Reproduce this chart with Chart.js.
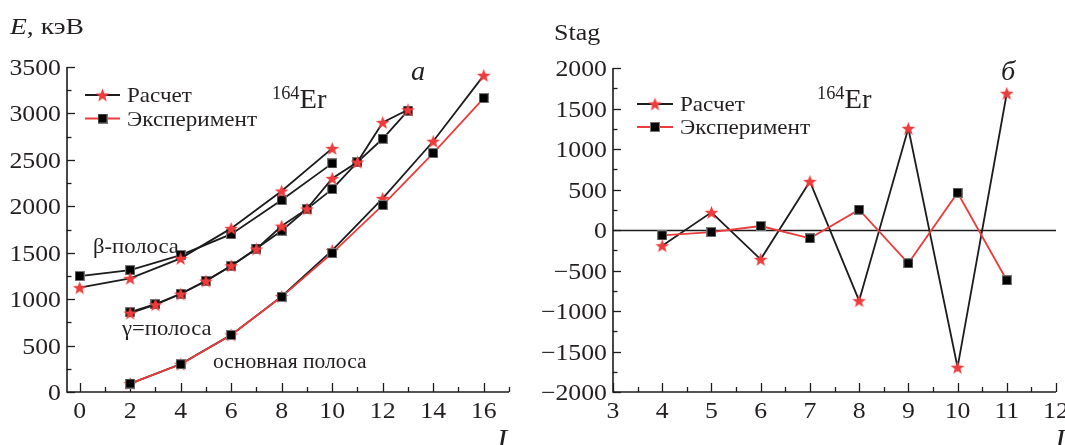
<!DOCTYPE html>
<html>
<head>
<meta charset="utf-8">
<script src="https://cdn.jsdelivr.net/npm/chart.js@4.4.1/dist/chart.umd.min.js"></script>
<style>
html,body{margin:0;padding:0;background:#fff;overflow:hidden;}
#wrap{position:relative;width:1065px;height:445px;}
canvas{position:absolute;top:0;}
#cLeft{left:0;}
#cRight{left:540px;}
</style>
</head>
<body>
<div id="wrap">
<canvas id="cLeft" width="540" height="445"></canvas>
<canvas id="cRight" width="525" height="445"></canvas>
</div>
<script>
// ---------- data ----------
const spinsGround = [2, 4, 6, 8, 10, 12, 14, 16];
const groundCalc  = [91, 300, 615, 1030, 1525, 2085, 2700, 3410];
const groundExp   = [91, 299, 614, 1025, 1495, 2013, 2573, 3165];

const spinsGamma = [2, 3, 4, 5, 6, 7, 8, 9, 10, 11, 12, 13];
const gammaCalc  = [850, 940, 1055, 1195, 1360, 1540, 1787, 1972, 2300, 2476, 2903, 3040];
const gammaExp   = [860, 946, 1058, 1197, 1358, 1545, 1737, 1970, 2185, 2476, 2727, 3030];

const spinsBeta = [0, 2, 4, 6, 8, 10];
const betaCalc  = [1123, 1224, 1439, 1762, 2164, 2623];
const betaExp   = [1249, 1313, 1475, 1700, 2067, 2462];

const spinsStag = [4, 5, 6, 7, 8, 9, 10, 11];
const stagCalc  = [-194, 218, -362, 600, -873, 1255, -1695, 1688];
const stagExp   = [-66, -25, 49, -103, 251, -411, 460, -621];

const energyTicks = [0, 500, 1000, 1500, 2000, 2500, 3000, 3500];
const spinTicksLeft = [0, 2, 4, 6, 8, 10, 12, 14, 16];
const stagTicks = [-2000, -1500, -1000, -500, 0, 500, 1000, 1500, 2000];
const spinTicksRight = [3, 4, 5, 6, 7, 8, 9, 10, 11, 12];

const legendLabels = ['Расчет', 'Эксперимент'];

// ---------- styles ----------
const RED = '#ee3b3b';
const BLACK = '#1c1c1c';
const TEXT = '#231f20';
const SERIF = '"Liberation Serif"';
const SX = 1.12;

function makeStar(size) {
  const c = document.createElement('canvas');
  c.width = size; c.height = size;
  const g = c.getContext('2d');
  const cx = size / 2, cy = size / 2 + 0.6, R = size / 2 - 0.3, r = R * 0.42;
  g.beginPath();
  for (let i = 0; i < 10; i++) {
    const a = -Math.PI / 2 + i * Math.PI / 5;
    const rr = i % 2 === 0 ? R : r;
    g.lineTo(cx + rr * Math.cos(a), cy + rr * Math.sin(a));
  }
  g.closePath();
  g.fillStyle = RED;
  g.fill();
  return c;
}
function makeSquare(size) {
  const c = document.createElement('canvas');
  c.width = size; c.height = size;
  const g = c.getContext('2d');
  g.fillStyle = '#777';
  g.fillRect(0, 0, size, size);
  g.fillStyle = '#000';
  g.fillRect(1, 1, size - 2, size - 2);
  return c;
}
const STAR = makeStar(15);
const SQUARE = makeSquare(10);

function xy(xs, ys) { return xs.map((x, i) => ({x: x, y: ys[i]})); }

function ds(xs, ys, lineColor, marker, order) {
  return {
    data: xy(xs, ys),
    borderColor: lineColor,
    borderWidth: 1.8,
    pointStyle: marker,
    pointRadius: 6,
    pointHoverRadius: 6,
    backgroundColor: lineColor,
    tension: 0,
    fill: false,
    clip: false,
    order: order
  };
}

function drawText(ctx, text, x, y, font, align, baseline, sx) {
  ctx.save();
  ctx.font = font;
  ctx.fillStyle = TEXT;
  ctx.textBaseline = baseline || 'alphabetic';
  ctx.textAlign = 'left';
  const s = sx || SX;
  const w = ctx.measureText(text).width * s;
  let x0 = x;
  if (align === 'right') x0 = x - w;
  else if (align === 'center') x0 = x - w / 2;
  ctx.translate(x0, y);
  ctx.scale(s, 1);
  ctx.fillText(text, 0, 0);
  ctx.restore();
  return w;
}

function drawAxes(chart, cfg) {
  const ctx = chart.ctx;
  const xs = chart.scales.x, ys = chart.scales.y;
  const a = chart.chartArea;
  ctx.save();
  ctx.strokeStyle = BLACK;
  ctx.lineWidth = 1.6;
  ctx.beginPath();
  ctx.moveTo(a.left, a.top);
  ctx.lineTo(a.left, a.bottom);
  ctx.lineTo(a.right, a.bottom);
  ctx.stroke();
  ctx.lineWidth = 1.3;
  for (let v = cfg.yMin; v <= cfg.yMax + 1e-9; v += cfg.yMinor) {
    const p = Math.round(ys.getPixelForValue(v)) + 0.5;
    const major = Math.abs(v / cfg.yMajor - Math.round(v / cfg.yMajor)) < 1e-6;
    ctx.beginPath();
    ctx.moveTo(a.left, p);
    ctx.lineTo(a.left + (major ? 8 : 4.5), p);
    ctx.stroke();
  }
  for (let v = cfg.xTickStart; v <= cfg.xMax + 1e-9; v += cfg.xMinor) {
    const p = Math.round(xs.getPixelForValue(v)) + 0.5;
    const major = Math.abs(v / cfg.xMajor - Math.round(v / cfg.xMajor)) < 1e-6;
    ctx.beginPath();
    ctx.moveTo(p, a.bottom);
    ctx.lineTo(p, a.bottom - (major ? 9 : 5));
    ctx.stroke();
  }
  ctx.restore();
  const tf = '23px ' + SERIF;
  cfg.yLabels.forEach(v => {
    const lab = v < 0 ? '\u2212' + Math.abs(v) : String(v);
    drawText(ctx, lab, a.left - 6, ys.getPixelForValue(v) + 8, tf, 'right');
  });
  cfg.xLabels.forEach(v => {
    drawText(ctx, String(v), xs.getPixelForValue(v), a.bottom + 26, tf, 'center');
  });
}

function drawLegend(chart, x0, y0, x1, dy) {
  const ctx = chart.ctx;
  const rows = [
    {line: BLACK, mark: STAR, text: legendLabels[0]},
    {line: RED, mark: SQUARE, text: legendLabels[1]}
  ];
  rows.forEach((r, i) => {
    const y = y0 + i * dy;
    ctx.save();
    ctx.strokeStyle = r.line;
    ctx.lineWidth = 1.8;
    ctx.beginPath();
    ctx.moveTo(x0, y); ctx.lineTo(x1, y);
    ctx.stroke();
    ctx.drawImage(r.mark, (x0 + x1) / 2 - r.mark.width / 2, y - r.mark.height / 2);
    ctx.restore();
    drawText(ctx, r.text, x1 + 7, y + 7, '21px ' + SERIF, 'left', 'alphabetic', 1.1);
  });
}

function drawIsotope(ctx, x, y) {
  const w = drawText(ctx, '164', x, y - 9, '18px ' + SERIF, 'left', 'alphabetic', 1.02);
  drawText(ctx, 'Er', x + w, y, '27px ' + SERIF, 'left', 'alphabetic', 1.06);
}

function build() {
  const leftPlugin = {
    id: 'leftDeco',
    beforeDatasetsDraw(chart) {
      drawAxes(chart, {
        yMin: 0, yMax: 3500, yMinor: 250, yMajor: 500,
        xTickStart: 0, xMax: 17, xMinor: 1, xMajor: 2,
        yLabels: energyTicks, xLabels: spinTicksLeft
      });
    },
    afterDraw(chart) {
      const ctx = chart.ctx;
      const w = drawText(ctx, 'E', 10, 34, 'italic 23px ' + SERIF, 'left', 'alphabetic', 1.2);
      drawText(ctx, ', кэВ', 10 + w, 34, '23px ' + SERIF, 'left', 'alphabetic', 1.2);
      drawText(ctx, 'I', 497, 449, 'italic 29px ' + SERIF, 'left', 'alphabetic', 1.05);
      drawLegend(chart, 85, 95, 120, 23.5);
      drawIsotope(ctx, 272, 108);
      drawText(ctx, 'а', 411, 80, 'italic 27px ' + SERIF, 'left', 'alphabetic', 1.05);
      drawText(ctx, 'β-полоса', 93, 253, '21px ' + SERIF, 'left', 'alphabetic', 1.08);
      drawText(ctx, 'γ=полоса', 122, 335, '21px ' + SERIF, 'left', 'alphabetic', 1.08);
      drawText(ctx, 'основная полоса', 213, 368, '20px ' + SERIF, 'left', 'alphabetic', 1.08);
    }
  };

  new Chart(document.getElementById('cLeft'), {
    type: 'line',
    data: {
      datasets: [
        ds(spinsBeta, betaExp, BLACK, SQUARE, 6),
        ds(spinsBeta, betaCalc, BLACK, STAR, 5),
        ds(spinsGamma, gammaExp, BLACK, SQUARE, 4),
        ds(spinsGamma, gammaCalc, BLACK, STAR, 3),
        ds(spinsGround, groundCalc, BLACK, STAR, 2),
        ds(spinsGround, groundExp, RED, SQUARE, 1)
      ]
    },
    options: {
      responsive: false,
      animation: false,
      devicePixelRatio: 1,
      layout: {padding: {left: 67, right: 31, top: 67, bottom: 53}},
      plugins: {legend: {display: false}, tooltip: {enabled: false}},
      scales: {
        x: {type: 'linear', min: -0.5, max: 17, display: false},
        y: {type: 'linear', min: 0, max: 3500, display: false}
      }
    },
    plugins: [leftPlugin]
  });

  const rightPlugin = {
    id: 'rightDeco',
    beforeDatasetsDraw(chart) {
      drawAxes(chart, {
        yMin: -2000, yMax: 2000, yMinor: 250, yMajor: 500,
        xTickStart: 3, xMax: 12, xMinor: 0.5, xMajor: 1,
        yLabels: stagTicks, xLabels: spinTicksRight
      });
      const ctx = chart.ctx, a = chart.chartArea;
      const y0 = Math.round(chart.scales.y.getPixelForValue(0)) + 0.5;
      ctx.save();
      ctx.strokeStyle = BLACK;
      ctx.lineWidth = 1.4;
      ctx.beginPath();
      ctx.moveTo(a.left, y0); ctx.lineTo(a.right, y0);
      ctx.stroke();
      ctx.restore();
    },
    afterDraw(chart) {
      const ctx = chart.ctx;
      drawText(ctx, 'Stag', 14, 40, '23px ' + SERIF, 'left', 'alphabetic', 1.13);
      drawText(ctx, 'I', 515, 449, 'italic 29px ' + SERIF, 'left', 'alphabetic', 1.05);
      drawLegend(chart, 97, 104, 133, 23);
      drawIsotope(ctx, 277, 108);
      drawText(ctx, 'б', 461, 80, 'italic 27px ' + SERIF, 'left', 'alphabetic', 1.05);
    }
  };

  new Chart(document.getElementById('cRight'), {
    type: 'line',
    data: {
      datasets: [
        ds(spinsStag, stagCalc, BLACK, STAR, 2),
        ds(spinsStag, stagExp, RED, SQUARE, 1)
      ]
    },
    options: {
      responsive: false,
      animation: false,
      devicePixelRatio: 1,
      layout: {padding: {left: 73, right: 9, top: 68, bottom: 53}},
      plugins: {legend: {display: false}, tooltip: {enabled: false}},
      scales: {
        x: {type: 'linear', min: 3, max: 12, display: false},
        y: {type: 'linear', min: -2000, max: 2000, display: false}
      }
    },
    plugins: [rightPlugin]
  });
}

const fontLoads = [
  '23px "Liberation Serif"',
  'italic 23px "Liberation Serif"'
].map(f => document.fonts.load(f, 'Eкэ0123456789'));
Promise.all(fontLoads).then(build, build);
</script>
</body>
</html>
